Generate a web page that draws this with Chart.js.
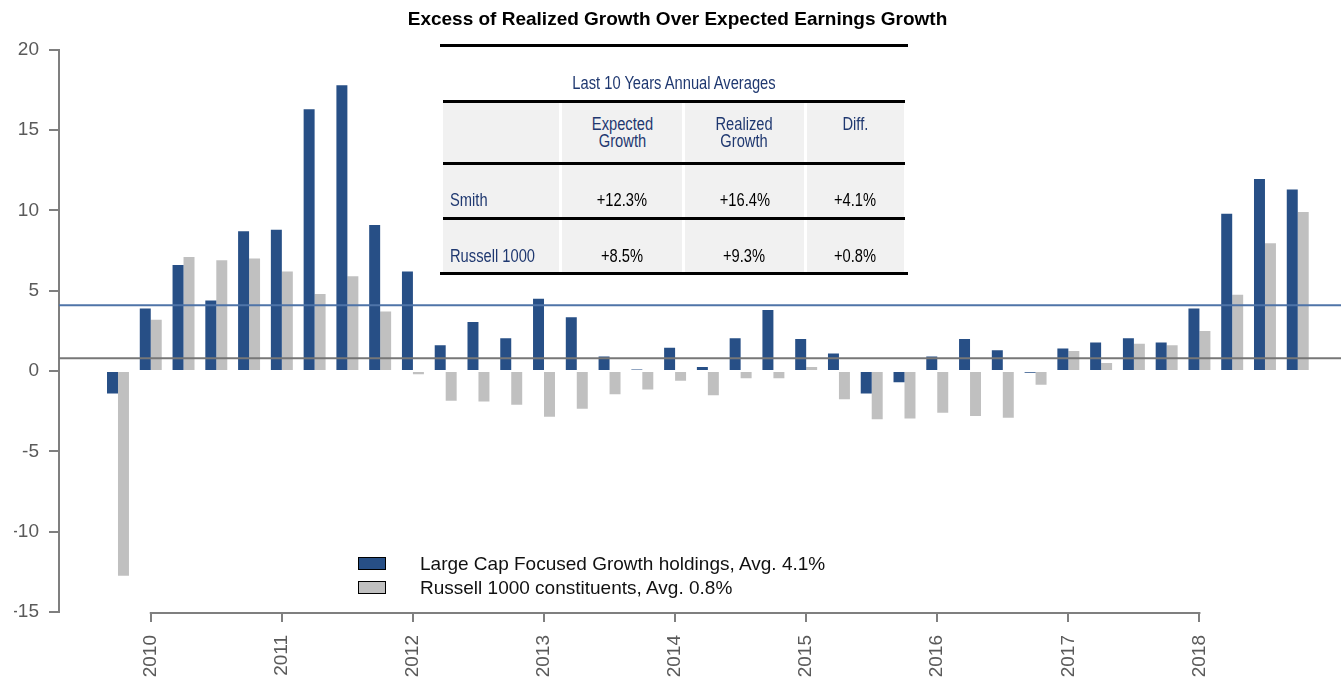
<!DOCTYPE html>
<html><head><meta charset="utf-8">
<script src="https://cdn.jsdelivr.net/npm/chart.js@4.4.1/dist/chart.umd.min.js"></script>
<style>
html,body{margin:0;padding:0;background:#fff;}
#wrap{position:relative;width:1341px;height:678px;overflow:hidden;}
canvas{position:absolute;left:0;top:0;}
.ov{position:absolute;white-space:nowrap;}
.nar{font-family:"Liberation Sans",Arial,sans-serif;font-size:17.5px;}
.nar span{display:inline-block;transform:scaleX(0.84);}
.nc span{transform-origin:50% 50%;}
.nl span{transform-origin:0 50%;}
.lg{font-family:"Liberation Sans",Arial,sans-serif;font-size:19px;color:#111;}
</style></head><body>
<div id="wrap"><canvas id="c" width="1341" height="678"></canvas><div id="table"></div><div id="legend"></div></div>
<script>
// ---------- data ----------
const quarters = ['2009 Q4',
 '2010 Q1','2010 Q2','2010 Q3','2010 Q4',
 '2011 Q1','2011 Q2','2011 Q3','2011 Q4',
 '2012 Q1','2012 Q2','2012 Q3','2012 Q4',
 '2013 Q1','2013 Q2','2013 Q3','2013 Q4',
 '2014 Q1','2014 Q2','2014 Q3','2014 Q4',
 '2015 Q1','2015 Q2','2015 Q3','2015 Q4',
 '2016 Q1','2016 Q2','2016 Q3','2016 Q4',
 '2017 Q1','2017 Q2','2017 Q3','2017 Q4',
 '2018 Q1','2018 Q2','2018 Q3','2018 Q4'];
const largeCapGrowth = [-1.4,
 3.9, 6.6, 4.4, 8.7,
 8.8, 16.3, 17.8, 9.1,
 6.2, 1.6, 3.05, 2.05,
 4.5, 3.35, 0.9, 0.1,
 1.45, 0.25, 2.05, 3.8,
 2.0, 1.1, -1.4, -0.7,
 0.9, 2.0, 1.3, -0.1,
 1.4, 1.78, 2.05, 1.78,
 3.9, 9.8, 11.95, 11.3];
const russell1000 = [-12.75,
 3.2, 7.1, 6.9, 7.0,
 6.2, 4.8, 5.9, 3.7,
 -0.2, -1.85, -1.9, -2.1,
 -2.85, -2.35, -1.45, -1.15,
 -0.6, -1.5, -0.45, -0.45,
 0.25, -1.75, -3.0, -2.95,
 -2.6, -2.8, -2.9, -0.85,
 1.25, 0.5, 1.7, 1.6,
 2.5, 4.75, 7.95, 9.9];
const averages = [4.1, 0.8];
const yearTicks = ['2010','2011','2012','2013','2014','2015','2016','2017','2018'];
const seriesNames = ['Large Cap Focused Growth holdings, Avg. 4.1%', 'Russell 1000 constituents, Avg. 0.8%'];
const chartTitle = 'Excess of Realized Growth Over Expected Earnings Growth';
const tableTitle = 'Last 10 Years Annual Averages';
const tableHeader = ['', 'Expected<br>Growth', 'Realized<br>Growth', 'Diff.'];
const tableRowNames = ['Smith', 'Russell 1000'];
const expectedGrowth = ['+12.3%', '+8.5%'];
const realizedGrowth = ['+16.4%', '+9.3%'];
const diffGrowth = ['+4.1%', '+0.8%'];

// ---------- styles ----------
const BLUE = '#274f86', GREY = '#c0c0c0', AXIS = '#7f7f7f', LABEL = '#5a5a5a';
const blueLine = '#4f74a8', greyLine = '#777777';
const FONT = '"Liberation Sans", Arial, sans-serif';
const yearIdx = yearTicks.map(y => quarters.indexOf(y + ' Q1'));

const avgLines = {
  id: 'avgLines',
  afterDatasetsDraw(chart) {
    const {ctx, chartArea, scales} = chart;
    const cols = [blueLine, greyLine];
    averages.forEach((a, i) => {
      const y = scales.y.getPixelForValue(a);
      ctx.save();
      ctx.strokeStyle = cols[i];
      ctx.lineWidth = 2;
      ctx.beginPath();
      ctx.moveTo(chartArea.left, y);
      ctx.lineTo(chartArea.right, y);
      ctx.stroke();
      ctx.restore();
    });
  }
};
const xAxisLine = {
  id: 'xAxisLine',
  afterDraw(chart) {
    const {ctx, chartArea, scales} = chart;
    const x0 = scales.x.getPixelForValue(yearIdx[0]);
    const x1 = scales.x.getPixelForValue(yearIdx[yearIdx.length - 1]);
    ctx.save();
    ctx.strokeStyle = AXIS;
    ctx.lineWidth = 2;
    ctx.beginPath();
    ctx.moveTo(x0 - 1, chartArea.bottom + 1);
    ctx.lineTo(x1 + 1, chartArea.bottom + 1);
    ctx.stroke();
    ctx.restore();
  }
};

const chart = new Chart(document.getElementById('c').getContext('2d'), {
  type: 'bar',
  data: {
    datasets: [
      {label: seriesNames[0], data: largeCapGrowth.map((v, i) => ({x: i, y: v})), backgroundColor: BLUE,
       borderWidth: 0, categoryPercentage: 0.67, barPercentage: 1},
      {label: seriesNames[1], data: russell1000.map((v, i) => ({x: i, y: v})), backgroundColor: GREY,
       borderWidth: 0, categoryPercentage: 0.67, barPercentage: 1}
    ]
  },
  options: {
    responsive: false, animation: false, devicePixelRatio: 1,
    layout: {padding: {left: 14, right: 0, top: 0, bottom: 0}},
    plugins: {
      legend: {display: false}, tooltip: {enabled: false},
      title: {display: true, text: chartTitle, color: '#000',
              font: {family: FONT, size: 19, weight: 'bold'}, padding: {top: 8, bottom: 19}}
    },
    scales: {
      x: {
        type: 'linear', min: -1.8, max: 37.32, offset: false,
        grid: {display: true, drawOnChartArea: false, offset: false, tickLength: 10, color: AXIS, lineWidth: 2},
        border: {display: false},
        afterBuildTicks: s => { s.ticks = yearIdx.map(v => ({value: v})); },
        ticks: {autoSkip: false, minRotation: 90, maxRotation: 90, padding: 13, color: LABEL,
                font: {family: FONT, size: 19},
                callback: v => yearTicks[yearIdx.indexOf(v)]},
        afterFit: s => { s.height = 66; }
      },
      y: {
        min: -15, max: 20,
        ticks: {stepSize: 5, padding: 10, color: LABEL, font: {family: FONT, size: 19}},
        grid: {drawOnChartArea: false, tickLength: 10, color: AXIS, lineWidth: 2},
        border: {display: true, color: AXIS, width: 2},
        afterFit: s => { s.width = 45; }
      }
    }
  },
  plugins: [avgLines, xAxisLine]
});

// ---------- legend overlay ----------
const lg = document.getElementById('legend');
chart.data.datasets.forEach((d, i) => {
  const top = 557 + i * 24;
  const box = document.createElement('div');
  box.className = 'ov';
  box.style.cssText = `left:358px;top:${top}px;width:26px;height:11px;border:1px solid #000;background:${d.backgroundColor};`;
  lg.appendChild(box);
  const t = document.createElement('div');
  t.className = 'ov lg';
  t.style.cssText = `left:420px;top:${top - 4}px;line-height:22px;`;
  t.textContent = d.label;
  lg.appendChild(t);
});

// ---------- table overlay ----------
const tb = document.getElementById('table');
function add(html, css, cls) {
  const e = document.createElement('div');
  e.className = 'ov ' + (cls || '');
  e.style.cssText = css;
  e.innerHTML = html;
  tb.appendChild(e);
  return e;
}
const NAVY = '#1f3870';
const colL = [443, 562, 685, 807], colR = [559, 682, 804, 904];
// rules
add('', 'left:440px;top:44px;width:468px;height:3px;background:#000;');
add('', 'left:443px;top:100px;width:462px;height:3px;background:#000;');
add('', 'left:443px;top:162px;width:462px;height:3px;background:#000;');
add('', 'left:443px;top:217px;width:462px;height:3px;background:#000;');
add('', 'left:440px;top:272px;width:468px;height:3px;background:#000;');
// title
add('<span>' + tableTitle + '</span>', `left:440px;top:72px;width:468px;text-align:center;line-height:22px;color:${NAVY};`, 'nar nc');
// backgrounds
const rowsY = [[103, 162], [165, 217], [220, 272]];
rowsY.forEach(r => colL.forEach((l, c) => {
  add('', `left:${l}px;top:${r[0]}px;width:${colR[c] - l}px;height:${r[1] - r[0]}px;background:#f1f1f1;`);
}));
// header
tableHeader.forEach((h, c) => {
  if (!h) return;
  add('<span>' + h + '</span>', `left:${colL[c]}px;top:116px;width:${colR[c] - colL[c]}px;text-align:center;line-height:17px;color:${NAVY};`, 'nar nc');
});
// rows
const cols = [expectedGrowth, realizedGrowth, diffGrowth];
tableRowNames.forEach((n, r) => {
  const cy = [200, 256][r];
  add('<span>' + n + '</span>', `left:450px;top:${cy - 10}px;line-height:20px;color:${NAVY};`, 'nar nl');
  cols.forEach((arr, c) => {
    add('<span>' + arr[r] + '</span>', `left:${colL[c + 1]}px;top:${cy - 10}px;width:${colR[c + 1] - colL[c + 1]}px;text-align:center;line-height:20px;color:#000;`, 'nar nc');
  });
});
</script>
</body></html>
